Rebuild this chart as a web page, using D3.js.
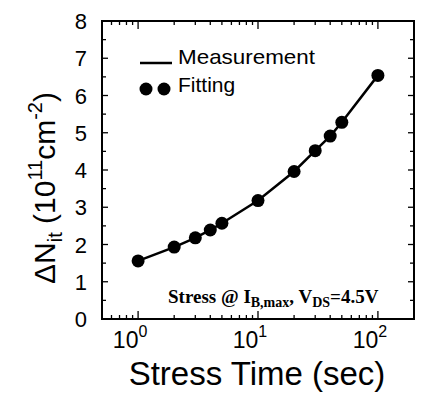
<!DOCTYPE html>
<html>
<head>
<meta charset="utf-8">
<script src="https://cdn.jsdelivr.net/npm/d3@7"></script>
<style>
  html, body { margin: 0; padding: 0; background: #fff; }
  svg { display: block; }
</style>
</head>
<body>
<svg id="chart" width="422" height="397"></svg>
<script>
// stress time (sec) and interface trap density (1e11 cm^-2)
const stressTime = [1, 2, 3, 4, 5, 10, 20, 30, 40, 50, 100];
const deltaNit   = [1.56, 1.93, 2.18, 2.39, 2.57, 3.18, 3.96, 4.52, 4.91, 5.28, 6.54];
const xDomain = [0.5, 200];
const yDomain = [0, 8];
const yMajorTicks = [0, 1, 2, 3, 4, 5, 6, 7, 8];
const xMajorTicks = [1, 10, 100];

const W = 422, H = 397;
const M = { top: 21, right: 8, bottom: 78, left: 102 };
const sans = "'Liberation Sans', Arial, sans-serif";
const serif = "'Liberation Serif', 'Times New Roman', serif";

const svg = d3.select("#chart");

const x = d3.scaleLog().domain(xDomain).range([M.left, W - M.right]);
const y = d3.scaleLinear().domain(yDomain).range([H - M.bottom, M.top]);

const x0 = M.left, x1 = W - M.right, y0 = H - M.bottom, y1 = M.top;

// minor log ticks: 2..9 in each decade inside domain
const xMinor = [];
[0.1, 1, 10, 100].forEach(dec => {
  for (let k = 2; k <= 9; k++) {
    const v = dec * k;
    if (v > xDomain[0] && v < xDomain[1] && !xMajorTicks.includes(v)) xMinor.push(v);
  }
});
const yMinor = d3.range(0.5, 8, 1);

const ticks = svg.append("g").attr("stroke", "#000").attr("stroke-width", 1.3);

// bottom & top ticks (inward)
[[y0, -1], [y1, 1]].forEach(([yy, dir]) => {
  ticks.selectAll(null).data(xMajorTicks).join("line")
    .attr("x1", d => x(d)).attr("x2", d => x(d))
    .attr("y1", yy).attr("y2", yy + dir * 8);
  ticks.selectAll(null).data(xMinor).join("line")
    .attr("x1", d => x(d)).attr("x2", d => x(d))
    .attr("y1", yy).attr("y2", yy + dir * 4);
});

// left & right ticks (inward)
[[x0, 1], [x1, -1]].forEach(([xx, dir]) => {
  ticks.selectAll(null).data(yMajorTicks).join("line")
    .attr("y1", d => y(d)).attr("y2", d => y(d))
    .attr("x1", xx).attr("x2", xx + dir * 6);
  ticks.selectAll(null).data(yMinor).join("line")
    .attr("y1", d => y(d)).attr("y2", d => y(d))
    .attr("x1", xx).attr("x2", xx + dir * 4);
});

// frame
svg.append("rect")
  .attr("x", x0).attr("y", y1)
  .attr("width", x1 - x0).attr("height", y0 - y1)
  .attr("fill", "none").attr("stroke", "#000").attr("stroke-width", 2);

// y tick labels
svg.append("g").selectAll("text").data(yMajorTicks).join("text")
  .attr("x", x0 - 15).attr("y", d => y(d) + 8)
  .attr("text-anchor", "end")
  .attr("font-family", sans).attr("font-size", 22)
  .text(d => d);

// x tick labels 10^n
const xl = svg.append("g").selectAll("text").data(xMajorTicks).join("text")
  .attr("x", d => x(d) - 8).attr("y", y0 + 29)
  .attr("text-anchor", "middle")
  .attr("font-family", sans).attr("font-size", 23);
xl.append("tspan").text("10");
xl.append("tspan").attr("dy", -11).attr("font-size", 16).text(d => Math.round(Math.log10(d)));

// axis titles
svg.append("text")
  .attr("x", 257).attr("y", y0 + 66)
  .attr("text-anchor", "middle")
  .attr("font-family", sans).attr("font-size", 33)
  .text("Stress Time (sec)");

const yt = svg.append("text")
  .attr("transform", `translate(55,188) rotate(-90)`)
  .attr("text-anchor", "middle")
  .attr("font-family", sans).attr("font-size", 30);
yt.append("tspan").text("\u0394N");
yt.append("tspan").attr("dy", 7).attr("font-size", 20).text("it");
yt.append("tspan").attr("dy", -7).text(" (10");
yt.append("tspan").attr("dy", -13).attr("font-size", 20).text("11");
yt.append("tspan").attr("dy", 13).text("cm");
yt.append("tspan").attr("dy", -13).attr("font-size", 20).text("-2");
yt.append("tspan").attr("dy", 13).text(")");

// measurement line
const pts = stressTime.map((t, i) => [t, deltaNit[i]]);
svg.append("path")
  .datum(pts)
  .attr("fill", "none").attr("stroke", "#000").attr("stroke-width", 2.5)
  .attr("d", d3.line().x(d => x(d[0])).y(d => y(d[1])));

// fitting dots
svg.append("g").selectAll("circle").data(pts).join("circle")
  .attr("cx", d => x(d[0])).attr("cy", d => y(d[1]))
  .attr("r", 6.5).attr("fill", "#000");

// legend
const lg = svg.append("g");
lg.append("line").attr("x1", 140).attr("x2", 172).attr("y1", 63).attr("y2", 63)
  .attr("stroke", "#000").attr("stroke-width", 2.5);
lg.append("text").attr("x", 178).attr("y", 64)
  .attr("font-family", sans).attr("font-size", 21)
  .attr("textLength", 137).attr("lengthAdjust", "spacingAndGlyphs")
  .text("Measurement");
lg.selectAll("circle").data([146, 164]).join("circle")
  .attr("cx", d => d).attr("cy", 89).attr("r", 6.5).attr("fill", "#000");
lg.append("text").attr("x", 178).attr("y", 92)
  .attr("font-family", sans).attr("font-size", 21).text("Fitting");

// stress condition annotation
const ann = svg.append("text")
  .attr("x", 168).attr("y", 303)
  .attr("font-family", serif).attr("font-weight", "bold").attr("font-size", 19);
ann.append("tspan").text("Stress @ I");
ann.append("tspan").attr("dy", 4).attr("font-size", 14).text("B,max");
ann.append("tspan").attr("dy", -4).text(", V");
ann.append("tspan").attr("dy", 4).attr("font-size", 14).text("DS");
ann.append("tspan").attr("dy", -4).text("=4.5V");
</script>
</body>
</html>
